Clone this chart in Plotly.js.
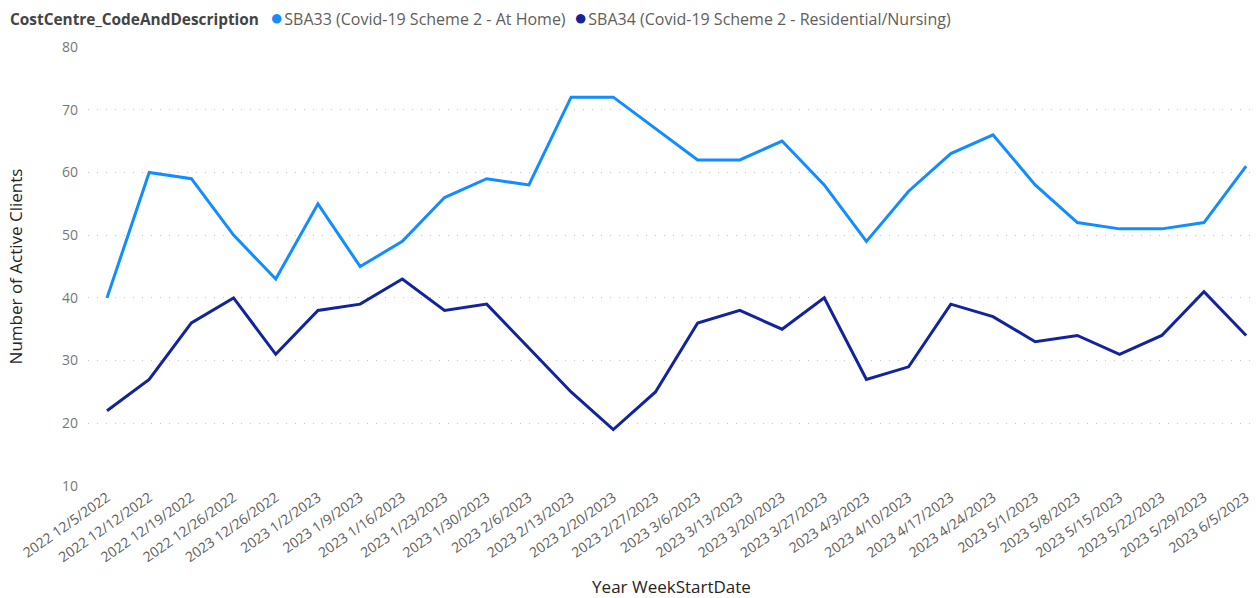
<!DOCTYPE html>
<html>
<head>
<meta charset="utf-8">
<script src="https://cdn.plot.ly/plotly-3.0.1.min.js"></script>
<style>html,body{margin:0;padding:0;background:#fff;}#chart{width:1256px;height:598px;}</style>
</head>
<body>
<div id="chart"></div>
<script>
var weeks = ["2022 12/5/2022","2022 12/12/2022","2022 12/19/2022","2022 12/26/2022","2023 12/26/2022","2023 1/2/2023","2023 1/9/2023","2023 1/16/2023","2023 1/23/2023","2023 1/30/2023","2023 2/6/2023","2023 2/13/2023","2023 2/20/2023","2023 2/27/2023","2023 3/6/2023","2023 3/13/2023","2023 3/20/2023","2023 3/27/2023","2023 4/3/2023","2023 4/10/2023","2023 4/17/2023","2023 4/24/2023","2023 5/1/2023","2023 5/8/2023","2023 5/15/2023","2023 5/22/2023","2023 5/29/2023","2023 6/5/2023"];
var sba33 = [40,60,59,50,43,55,45,49,56,59,58,72,72,67,62,62,65,58,49,57,63,66,58,52,51,51,52,61];
var sba34 = [22,27,36,40,31,38,39,43,38,39,32,25,19,25,36,38,35,40,27,29,39,37,33,34,31,34,41,34];
var seriesNames = ["SBA33 (Covid-19 Scheme 2 - At Home)","SBA34 (Covid-19 Scheme 2 - Residential/Nursing)"];
var seriesColors = ["#118DFF","#12239E"];
var legendTitle = "CostCentre_CodeAndDescription";
var yTicks = [10,20,30,40,50,60,70,80];

var font = "'Segoe UI', 'Open Sans', 'Noto Sans', sans-serif";
var traces = [
  {x: weeks, y: sba33, type: "scatter", mode: "lines", name: seriesNames[0], line: {color: seriesColors[0], width: 3}, showlegend: false},
  {x: weeks, y: sba34, type: "scatter", mode: "lines", name: seriesNames[1], line: {color: seriesColors[1], width: 3}, showlegend: false}
];
function legendItem(i) {
  return "<span style='color:" + seriesColors[i] + ";font-size:22px'>●</span><span style='font-size:4px'> </span>" + seriesNames[i];
}
var layout = {
  width: 1256, height: 598,
  margin: {l: 88, r: 1, t: 47, b: 112},
  paper_bgcolor: "#fff", plot_bgcolor: "#fff",
  font: {family: font, color: "#605E5C"},
  showlegend: false,
  xaxis: {
    type: "category",
    range: [-0.45, 27.21],
    tickangle: -35,
    tickfont: {size: 14, color: "#605E5C"},
    showgrid: false, zeroline: false, showline: false,
    ticks: "",
    title: {text: "Year WeekStartDate", font: {size: 17, color: "#252423"}, standoff: 25}
  },
  yaxis: {
    range: [10, 80],
    tickvals: yTicks,
    tickfont: {size: 14, color: "#777777"},
    showgrid: true, gridcolor: "#C8C8C8", griddash: "1px,8px", gridwidth: 1,
    zeroline: false, showline: false,
    ticks: "", ticklabelstandoff: 9,
    title: {text: "Number of Active Clients", font: {size: 17, color: "#252423"}, standoff: 35}
  },
  annotations: [
    {xref: "paper", yref: "paper", x: -80/1167, y: 1 + 28/439, xanchor: "left", yanchor: "middle", showarrow: false,
     text: "<b>" + legendTitle + "</b>", font: {size: 15.4, color: "#444444", family: font}},
    {xref: "paper", yref: "paper", x: (268-88)/1167, y: 1 + 31/439, xanchor: "left", yanchor: "middle", showarrow: false,
     text: legendItem(0), font: {size: 16, color: "#605E5C", family: font}},
    {xref: "paper", yref: "paper", x: (572-88)/1167, y: 1 + 31/439, xanchor: "left", yanchor: "middle", showarrow: false,
     text: legendItem(1), font: {size: 16, color: "#605E5C", family: font}}
  ]
};
Plotly.newPlot("chart", traces, layout, {displayModeBar: false, staticPlot: true});
</script>
</body>
</html>
